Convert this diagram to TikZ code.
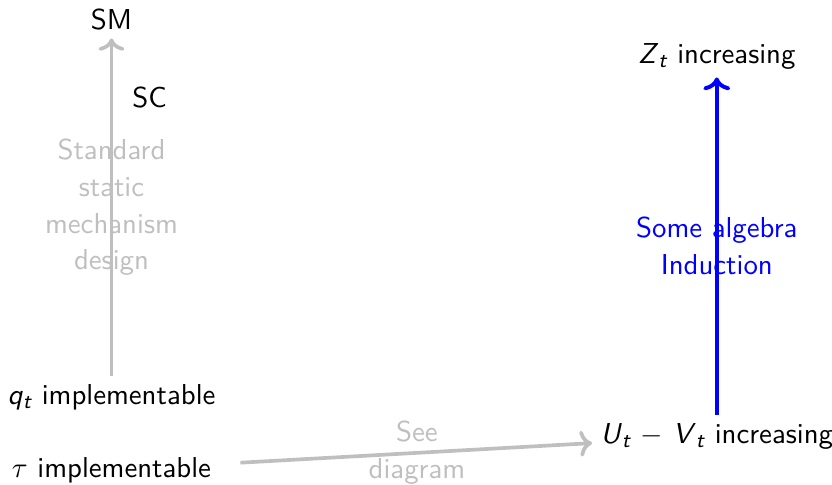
\documentclass[tikz,border=0pt,11pt]{standalone}
\usepackage{amstext}
\usetikzlibrary{arrows.meta}
\newcommand{\sv}[2]{\textsl{#1}$_{\textsl{#2}}$}

\begin{document}
\begin{tikzpicture}[
  font=\sffamily,
  stmt/.style={inner sep=3pt},
  lbl/.style={align=center, midway, font=\sffamily\fontsize{10.95}{14}\selectfont},
  grayarr/.style={->, line width=1.4pt, gray!50},
  bluearr/.style={->, line width=1.5pt, blue}
]
\useasboundingbox (0,0) rectangle (11.12,6.48);

%% Left column
\node[stmt] (sm)  at (1.49, 6.22) {SM};
\node[stmt] (sc)  at (2.00, 5.17) {SC};
\node[stmt] (qt)  at (1.49, 1.17) {\sv{q}{t} implementable};
\node[stmt] (tau) at (1.49, 0.20) {$\tau$ implementable};

%% Right column
\node[stmt] (zt)  at (9.58, 5.73) {\sv{Z}{t} increasing};
\node[stmt] (uv)  at (9.58, 0.65) {\sv{U}{t} $-$ \sv{V}{t} increasing};

%% Arrows
\draw[grayarr] (qt) -- node[lbl] {Standard\\static\\mechanism\\design} (sm);
\draw[grayarr, shorten <=8pt] (tau) -- node[lbl, pos=0.53] {See\\diagram} (uv);
\draw[bluearr] (uv) -- node[lbl] {Some algebra\\Induction} (zt);

\end{tikzpicture}
\end{document}
